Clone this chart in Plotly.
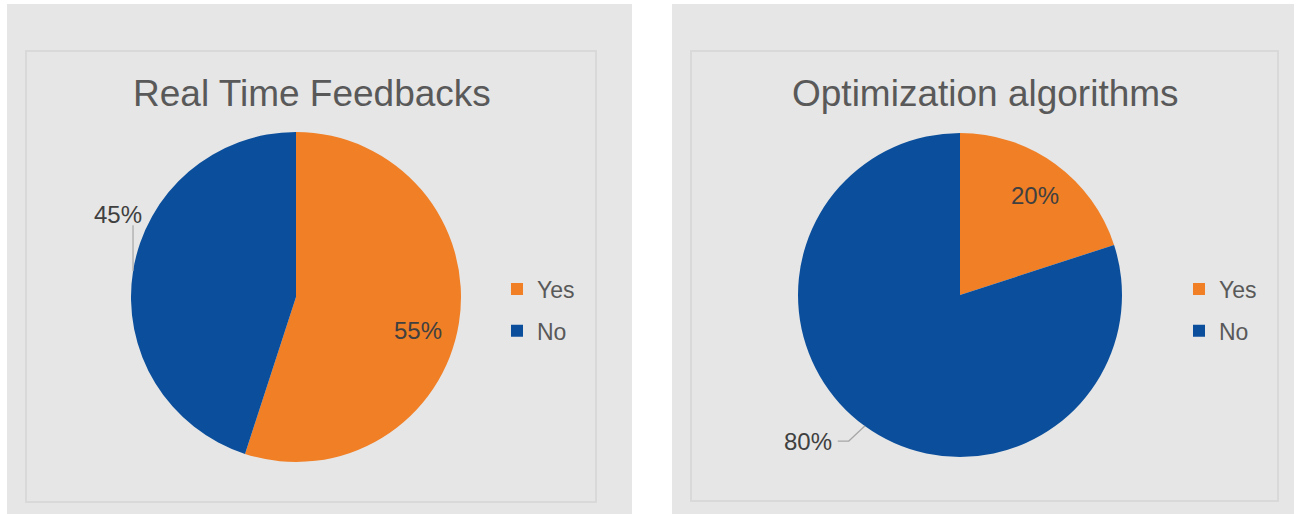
import math
import plotly.graph_objects as go

W, H = 1298, 514

# ---- data -------------------------------------------------------------
categories = ["Yes", "No"]
feedback_values = [55, 45]
optimization_values = [20, 80]
chart_titles = ["Real Time Feedbacks", "Optimization algorithms"]

# ---- style ------------------------------------------------------------
ORANGE = "#F07F26"
BLUE = "#0B4F9C"
SLICE_COLORS = [ORANGE, BLUE]
PANEL = "#E6E6E6"
FRAME = "#D9D9D9"
TITLE_COLOR = "#595959"
LABEL_COLOR = "#404040"
LEADER = "#A6A6A6"
FONT = "Liberation Sans, Arial, sans-serif"

# layout boxes in pixels: (left, top, right, bottom)
# label spec per slice: inside labels -> (angle shift, radius fraction)
# outside labels -> text offset and leader-line bend points relative to the rim
panels = [
    dict(values=feedback_values, title=chart_titles[0],
         bg=(7, 4, 632, 514), frame=(26, 51, 596, 502),
         pie=(131, 132, 461, 462), title_xy=(312, 93), legend_xy=(497, 310),
         labels=[dict(inside=True, shift=6.5, rfrac=0.77),
                 dict(inside=False, text=(-15, -57), leader=[(0, -46)])]),
    dict(values=optimization_values, title=chart_titles[1],
         bg=(672, 4, 1294, 514), frame=(691, 51, 1278, 501),
         pie=(798, 133, 1122, 457), title_xy=(985, 93), legend_xy=(1179, 310),
         labels=[dict(inside=True, shift=1.0, rfrac=0.77),
                 dict(inside=False, text=(-57, 15), leader=[(-16, 15), (-27, 15)])]),
]


def fx(x):
    return x / W


def fy(y):
    return 1 - y / H


fig = go.Figure()
shapes, annotations = [], []

for i, p in enumerate(panels):
    legend_name = "legend" if i == 0 else "legend2"
    l, t, r, b = p["pie"]
    fig.add_trace(go.Pie(
        labels=categories,
        values=p["values"],
        sort=False,
        direction="clockwise",
        rotation=0,
        textinfo="none",
        marker=dict(colors=SLICE_COLORS, line=dict(width=0)),
        domain=dict(x=[fx(l), fx(r)], y=[fy(b), fy(t)]),
        showlegend=False,
    ))

    # legend entries (square swatches), one group per category
    for cat, col in zip(categories, SLICE_COLORS):
        fig.add_trace(go.Scatter(
            x=[None], y=[None], mode="markers", name=cat,
            marker=dict(symbol="square", size=12, color=col, line=dict(width=0)),
            legend=legend_name, legendgroup=f"{legend_name}-{cat}",
            showlegend=True, hoverinfo="skip",
        ))

    bl, bt, br, bb = p["bg"]
    shapes.append(dict(type="rect", xref="paper", yref="paper",
                       x0=fx(bl), x1=fx(br), y0=fy(bb), y1=fy(bt),
                       fillcolor=PANEL, line=dict(width=0), layer="below"))
    fl, ft, fr, fb = p["frame"]
    shapes.append(dict(type="rect", xref="paper", yref="paper",
                       x0=fx(fl), x1=fx(fr), y0=fy(fb), y1=fy(ft),
                       fillcolor="rgba(0,0,0,0)", line=dict(width=2, color=FRAME),
                       layer="below"))

    tx, ty = p["title_xy"]
    annotations.append(dict(text=p["title"], xref="paper", yref="paper",
                            x=fx(tx), y=fy(ty), xanchor="center", yanchor="middle",
                            showarrow=False,
                            font=dict(family=FONT, size=37, color=TITLE_COLOR)))

    # data labels placed from the slice angles
    cx, cy = (l + r) / 2, (t + b) / 2
    rad = (r - l) / 2
    total = sum(p["values"])
    start = 0.0
    for v, spec in zip(p["values"], p["labels"]):
        mid = (start + v / 2) / total * 360
        start += v
        text = f"{v / total * 100:.0f}%"
        font = dict(family=FONT, size=24, color=LABEL_COLOR)
        if spec["inside"]:
            ang = math.radians(mid + spec["shift"])
            px_ = cx + rad * spec["rfrac"] * math.sin(ang)
            py_ = cy - rad * spec["rfrac"] * math.cos(ang)
            annotations.append(dict(text=text, xref="paper", yref="paper",
                                    x=fx(px_), y=fy(py_), xanchor="center",
                                    yanchor="middle", showarrow=False, font=font))
        else:
            ang = math.radians(mid)
            ex = cx + rad * math.sin(ang)
            ey = cy - rad * math.cos(ang)
            dx, dy = spec["text"]
            annotations.append(dict(text=text, xref="paper", yref="paper",
                                    x=fx(ex + dx), y=fy(ey + dy), xanchor="center",
                                    yanchor="middle", showarrow=False, font=font))
            path = f"M{fx(ex)},{fy(ey)}"
            for ox, oy in spec["leader"]:
                path += f" L{fx(ex + ox)},{fy(ey + oy)}"
            shapes.append(dict(type="path", xref="paper", yref="paper", path=path,
                               line=dict(color=LEADER, width=1.2)))

legend_style = dict(font=dict(family=FONT, size=23, color=TITLE_COLOR),
                    bgcolor="rgba(0,0,0,0)", xanchor="left", yanchor="middle",
                    orientation="v", traceorder="grouped", tracegroupgap=9,
                    itemclick=False, itemdoubleclick=False)
lx1, ly1 = panels[0]["legend_xy"]
lx2, ly2 = panels[1]["legend_xy"]

fig.update_layout(
    width=W, height=H,
    margin=dict(l=0, r=0, t=0, b=0),
    paper_bgcolor="white",
    plot_bgcolor="rgba(0,0,0,0)",
    xaxis=dict(visible=False),
    yaxis=dict(visible=False),
    shapes=shapes,
    annotations=annotations,
    legend=dict(x=fx(lx1), y=fy(ly1), **legend_style),
    legend2=dict(x=fx(lx2), y=fy(ly2), **legend_style),
)

fig.write_html("out.html")
